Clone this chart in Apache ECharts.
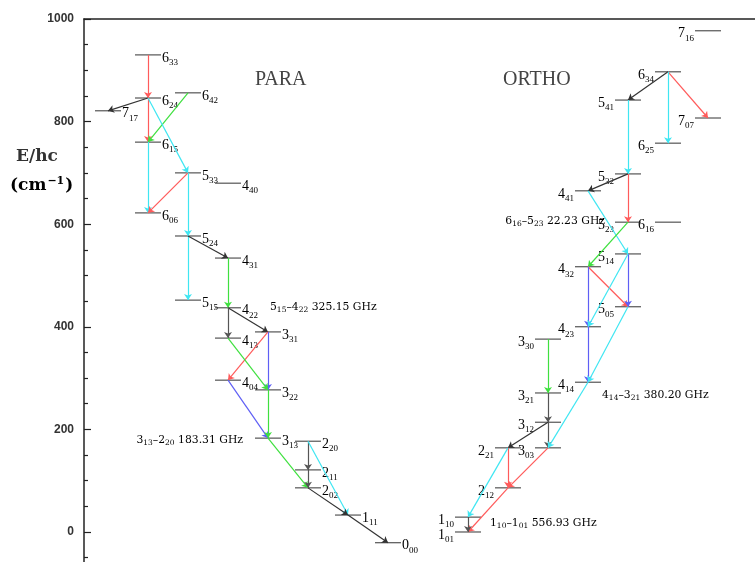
<!DOCTYPE html>
<html>
<head>
<meta charset="utf-8">
<script src="https://cdn.jsdelivr.net/npm/echarts@6/dist/echarts.min.js"></script>
<style>
  html, body { margin: 0; padding: 0; background: #fff; }
  #chart { width: 755px; height: 562px; }
</style>
</head>
<body>
<div id="chart"></div>
<script>
// Rotational energy levels of para- and ortho-water with the transitions between them.
// Level names are written J_KaKc; columns place each level on the horizontal ladder.

const paraNames    = ['6_33','6_24','6_42','7_17','6_15','5_33','4_40','6_06','5_24','4_31','5_15','4_22','3_31','4_13','4_04','3_22','3_13','2_20','2_11','2_02','1_11','0_00'];
const paraColumns  = [1, 1, 2, 0, 1, 2, 3, 1, 2, 3, 2, 3, 4, 3, 3, 4, 4, 5, 5, 5, 6, 7];
const paraEnergies = [930, 846, 856, 821, 760, 700, 680, 622, 577, 534, 452, 437, 390, 378, 296, 277, 183, 177, 121, 86, 33, -21];

const orthoNames    = ['7_16','6_34','5_41','7_07','6_25','5_32','4_41','6_16','5_23','5_14','4_32','5_05','4_23','3_30','4_14','3_21','3_12','3_03','2_21','2_12','1_10','1_01'];
const orthoColumns  = [15, 14, 13, 15, 14, 13, 12, 14, 13, 13, 12, 13, 12, 11, 12, 11, 11, 11, 10, 10, 9, 9];
const orthoEnergies = [977, 897, 842, 807, 758, 698, 665, 604, 604, 542, 517, 439, 400, 376, 292, 271, 214, 164, 164, 86, 29, 0];

// [upper level, lower level, colour key]
const paraTransitions = [
  ['6_33','6_24','red'],  ['6_24','7_17','black'], ['6_24','6_15','red'],  ['6_42','6_15','green'],
  ['6_24','5_33','cyan'], ['6_15','6_06','cyan'],  ['5_33','6_06','red'],  ['5_33','5_24','cyan'],
  ['5_24','5_15','cyan'], ['5_24','4_31','black'], ['4_31','4_22','green'],['4_22','3_31','black'],
  ['4_22','4_13','gray'], ['3_31','4_04','red'],   ['3_31','3_22','blue'], ['4_13','3_22','green'],
  ['4_04','3_13','blue'], ['3_22','3_13','green'], ['3_13','2_02','green'],['2_20','2_11','gray'],
  ['2_11','2_02','gray'], ['2_20','1_11','cyan'],  ['2_02','1_11','black'],['1_11','0_00','black']
];
const orthoTransitions = [
  ['6_34','5_41','black'], ['6_34','7_07','red'],  ['6_34','6_25','cyan'], ['5_41','5_32','cyan'],
  ['5_32','4_41','black'], ['5_32','5_23','red'],  ['4_41','5_14','cyan'], ['5_23','4_32','green'],
  ['4_32','5_05','red'],   ['5_14','5_05','blue'], ['4_32','4_23','blue'], ['5_14','4_23','cyan'],
  ['4_23','4_14','blue'],  ['5_05','4_14','cyan'], ['3_30','3_21','green'],['3_21','3_12','gray'],
  ['3_12','3_03','gray'],  ['3_12','2_21','black'],['4_14','3_03','cyan'], ['3_03','2_12','red'],
  ['2_21','2_12','red'],   ['2_21','1_10','cyan'], ['2_12','1_01','red'],  ['1_10','1_01','gray']
];

// Maser lines: text and the level each note sits next to
const maserTexts   = ['5_15–4_22 325.15 GHz', '3_13–2_20 183.31 GHz', '6_16–5_23 22.23 GHz', '4_14–3_21 380.20 GHz', '1_10–1_01 556.93 GHz'];
const maserAnchors = [['para','4_22'], ['para','3_13'], ['ortho','5_23'], ['ortho','3_21'], ['ortho','1_10']];

const yTickValues  = [0, 200, 400, 600, 800, 1000];
const yMinorValues = [-50, 50, 100, 150, 250, 300, 350, 450, 500, 550, 650, 700, 750, 850, 900, 950];

// ---- presentation ----
const colours = { red: '#ff5b5b', green: '#3fe03f', cyan: '#3fe6f2', blue: '#5f5ff5', black: '#333333', gray: '#555555' };
const maserLayout = [
  { dx: 42, dy: -1, align: 'left' },
  { dx: -25, dy: 2, align: 'right' },
  { dx: -23, dy: -1, align: 'right' },
  { dx: 54, dy: 2, align: 'left' },
  { dx: 22, dy: 6, align: 'left' }
];
const SERIF = '"Liberation Serif", "DejaVu Serif", serif';
const WIDE_SERIF = '"DejaVu Serif", serif';
const LEVEL_HALF = 13; // px half-width of a level bar
const Y_MIN = -58.5;   // bottom edge of the plotting frame

const species = {
  para:  { names: paraNames,  cols: paraColumns,  en: paraEnergies,  side: 1 },
  ortho: { names: orthoNames, cols: orthoColumns, en: orthoEnergies, side: -1 }
};
function levelOf(sp, name) {
  const s = species[sp];
  const i = s.names.indexOf(name);
  return [s.cols[i], s.en[i]];
}
function richName(name) {
  const [j, k] = name.split('_');
  return '{m|' + j + '}{s|' + k + '}';
}
function richNote(text) {
  return text.replace(/(\d)_(\d\d)/g, '{n|$1}{t|$2}')
    .split(/(\{[nt]\|[^}]*\})/).map(function (p) {
      if (!p) return '';
      if (p.charAt(0) === '{') return p;
      return '{n|' + p + '}';
    }).join('');
}

const levelRich = {
  m: { fontFamily: SERIF, fontSize: 14, color: '#3a3a3a' },
  s: { fontFamily: SERIF, fontSize: 9, color: '#3a3a3a', padding: [9, 0, 0, 0] }
};
const noteRich = {
  n: { fontFamily: WIDE_SERIF, fontSize: 10.8, color: '#444' },
  t: { fontFamily: WIDE_SERIF, fontSize: 7.5, color: '#444', padding: [6, 0, 0, 0] }
};

const levelData = [];
['para', 'ortho'].forEach(function (sp) {
  const s = species[sp];
  s.names.forEach(function (n, i) {
    levelData.push({ value: [s.cols[i], s.en[i], s.side], name: n });
  });
});

const arrowData = [];
[['para', paraTransitions], ['ortho', orthoTransitions]].forEach(function (pair) {
  pair[1].forEach(function (t) {
    arrowData.push({
      coords: [levelOf(pair[0], t[0]), levelOf(pair[0], t[1])],
      lineStyle: { color: colours[t[2]] }
    });
  });
});

const noteData = maserTexts.map(function (txt, i) {
  const a = maserAnchors[i];
  return { value: levelOf(a[0], a[1]), name: txt };
});

const axisColour = '#222';
const chart = echarts.init(document.getElementById('chart'), null, { renderer: 'canvas' });

chart.setOption({
  animation: false,
  backgroundColor: '#fff',
  grid: { left: 84, top: 19, right: 0, bottom: 0, containLabel: false },
  xAxis: {
    type: 'value', position: 'top', min: -0.6, max: 16.175,
    axisLine: { show: true, onZero: false, lineStyle: { color: axisColour, width: 1.5 } },
    axisTick: { show: false }, axisLabel: { show: false }, splitLine: { show: false }
  },
  yAxis: [
    {
      type: 'value', min: Y_MIN, max: 1000,
      axisLine: { show: true, onZero: false, lineStyle: { color: axisColour, width: 1.5 } },
      axisTick: { show: true, inside: true, length: 7, customValues: yTickValues, lineStyle: { color: axisColour, width: 1.2 } },
      splitLine: { show: false },
      axisLabel: {
        customValues: yTickValues,
        formatter: function (v) { return String(Math.round(v)); },
        margin: 10, color: '#333', fontFamily: '"Liberation Sans", Arial, sans-serif',
        fontSize: 12, fontWeight: 'bold'
      }
    },
    {
      type: 'value', min: Y_MIN, max: 1000, position: 'left',
      axisLine: { show: false, onZero: false },
      axisTick: { show: true, inside: true, length: 4, customValues: yMinorValues, lineStyle: { color: axisColour, width: 1.2 } },
      axisLabel: { show: false }, splitLine: { show: false }
    }
  ],
  graphic: [
    { type: 'text', left: 255, top: 70, style: { text: 'PARA', font: '20px ' + SERIF, fill: '#444' } },
    { type: 'text', left: 503, top: 70, style: { text: 'ORTHO', font: '20px ' + SERIF, fill: '#444' } },
    { type: 'text', left: 16, top: 148, style: { text: 'E/hc', font: 'bold 17px ' + WIDE_SERIF, fill: '#333' } },
    { type: 'text', left: 10, top: 176, style: {
        text: '{a|(cm}{b|−1}{a|)}',
        rich: { a: { fontFamily: WIDE_SERIF, fontSize: 17, fontWeight: 'bold', color: '#333' },
                b: { fontFamily: WIDE_SERIF, fontSize: 11, fontWeight: 'bold', color: '#333', padding: [0, 1, 9, 1] } }
      } }
  ],
  series: [
    {
      type: 'custom', z: 2, data: levelData,
      renderItem: function (params, api) {
        const c = api.coord([api.value(0), api.value(1)]);
        const side = api.value(2);
        const name = levelData[params.dataIndex].name;
        return {
          type: 'group',
          children: [
            { type: 'line', shape: { x1: c[0] - LEVEL_HALF, y1: c[1], x2: c[0] + LEVEL_HALF, y2: c[1] },
              style: { stroke: '#333', lineWidth: 1 } },
            { type: 'text', style: {
                text: richName(name), rich: levelRich,
                x: side > 0 ? c[0] + LEVEL_HALF + 1 : c[0] - LEVEL_HALF - 1,
                y: c[1] + 3, align: side > 0 ? 'left' : 'right', verticalAlign: 'middle'
              } }
          ]
        };
      }
    },
    {
      type: 'lines', coordinateSystem: 'cartesian2d', z: 3,
      symbol: ['none', 'arrow'], symbolSize: 6,
      lineStyle: { width: 1.2, opacity: 1 },
      data: arrowData
    },
    {
      type: 'custom', z: 4, data: noteData,
      renderItem: function (params, api) {
        const c = api.coord([api.value(0), api.value(1)]);
        const lay = maserLayout[params.dataIndex];
        return {
          type: 'text', style: {
            text: richNote(noteData[params.dataIndex].name), rich: noteRich,
            x: c[0] + lay.dx, y: c[1] + lay.dy, align: lay.align, verticalAlign: 'middle'
          }
        };
      }
    }
  ]
});
</script>
</body>
</html>
